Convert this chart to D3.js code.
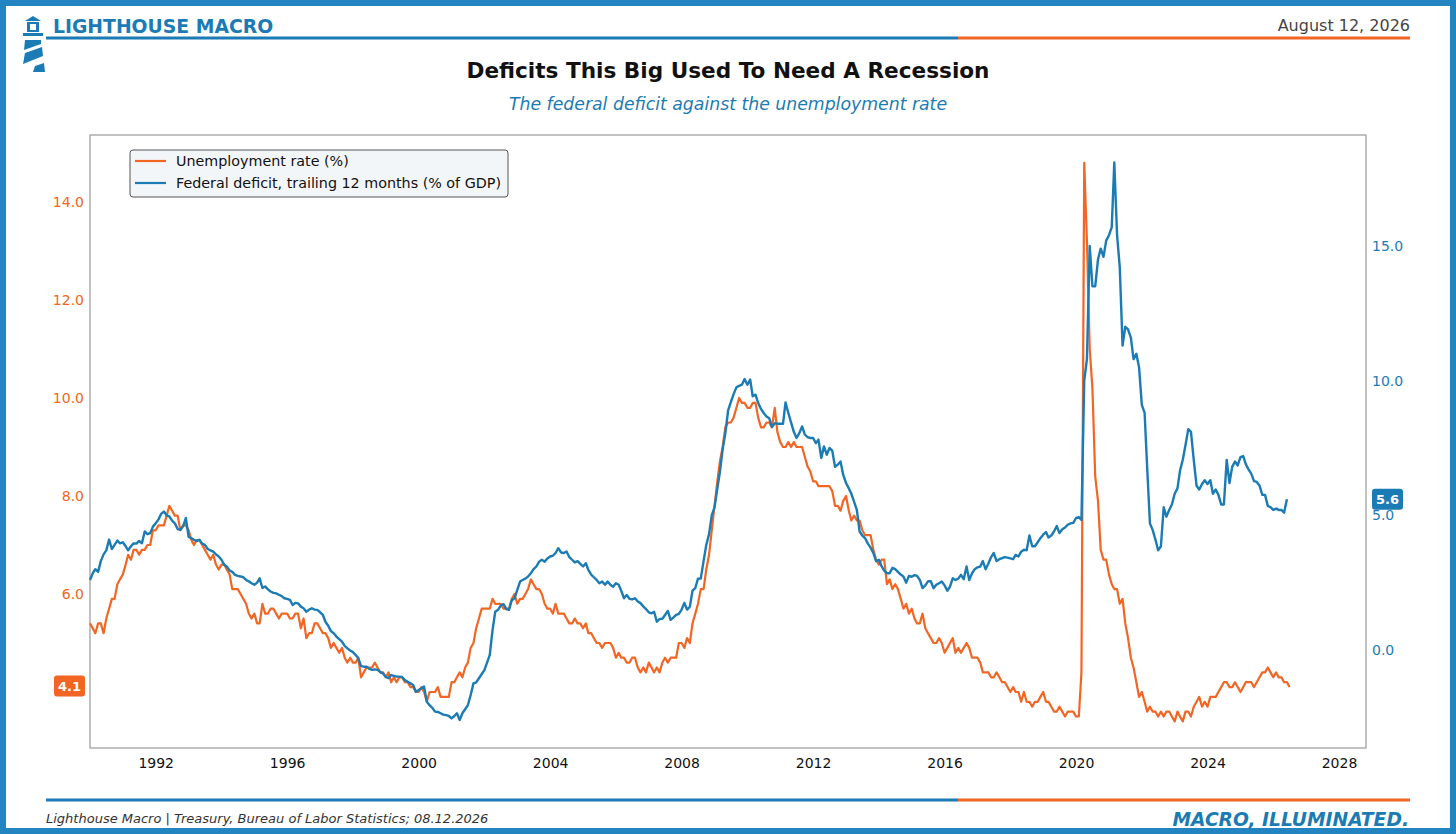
<!DOCTYPE html>
<html lang="en">
<head>
<meta charset="utf-8">
<title>Deficits This Big Used To Need A Recession</title>
<script src="https://d3js.org/d3.v7.min.js"></script>
<style>
  html, body { margin: 0; padding: 0; background: #fff; }
  svg { display: block; font-family: "DejaVu Sans", sans-serif; }
</style>
</head>
<body>
<svg id="chart" width="1456" height="834"></svg>
<script>
// monthly series, starting January 1990
var startYear = 1990;

// unemployment rate (%), Jan 1990 .. Jul 2026
var unemployment = [
  5.4,5.3,5.2,5.4,5.4,5.2,5.5,5.7,5.9,5.9,6.2,6.3,   // 1990
  6.4,6.6,6.8,6.7,6.9,6.9,6.8,6.9,6.9,7.0,7.0,7.3,   // 1991
  7.3,7.4,7.4,7.4,7.6,7.8,7.7,7.6,7.6,7.3,7.4,7.4,   // 1992
  7.3,7.1,7.0,7.1,7.1,7.0,6.9,6.8,6.7,6.8,6.6,6.5,   // 1993
  6.6,6.6,6.5,6.4,6.1,6.1,6.1,6.0,5.9,5.8,5.6,5.5,   // 1994
  5.6,5.4,5.4,5.8,5.6,5.6,5.7,5.7,5.6,5.5,5.6,5.6,   // 1995
  5.6,5.5,5.5,5.6,5.6,5.3,5.5,5.1,5.2,5.2,5.4,5.4,   // 1996
  5.3,5.2,5.2,5.1,4.9,5.0,4.9,4.8,4.9,4.7,4.6,4.7,   // 1997
  4.6,4.6,4.7,4.3,4.4,4.5,4.5,4.5,4.6,4.5,4.4,4.4,   // 1998
  4.3,4.4,4.2,4.3,4.2,4.3,4.3,4.2,4.2,4.1,4.1,4.0,   // 1999
  4.0,4.1,4.0,3.8,4.0,4.0,4.0,4.1,3.9,3.9,3.9,3.9,   // 2000
  4.2,4.2,4.3,4.4,4.3,4.5,4.6,4.9,5.0,5.3,5.5,5.7,   // 2001
  5.7,5.7,5.7,5.9,5.8,5.8,5.8,5.7,5.7,5.7,5.9,6.0,   // 2002
  5.8,5.9,5.9,6.0,6.1,6.3,6.2,6.1,6.1,6.0,5.8,5.7,   // 2003
  5.7,5.6,5.8,5.6,5.6,5.6,5.5,5.4,5.4,5.5,5.4,5.4,   // 2004
  5.3,5.4,5.2,5.2,5.1,5.0,5.0,4.9,5.0,5.0,5.0,4.9,   // 2005
  4.7,4.8,4.7,4.7,4.6,4.6,4.7,4.7,4.5,4.4,4.5,4.4,   // 2006
  4.6,4.5,4.4,4.5,4.4,4.6,4.7,4.6,4.7,4.7,4.7,5.0,   // 2007
  5.0,4.9,5.1,5.0,5.4,5.6,5.8,6.1,6.1,6.5,6.8,7.3,   // 2008
  7.8,8.3,8.7,9.0,9.4,9.5,9.5,9.6,9.8,10.0,9.9,9.9,  // 2009
  9.8,9.8,9.9,9.9,9.6,9.4,9.4,9.5,9.5,9.4,9.8,9.3,   // 2010
  9.1,9.0,9.0,9.1,9.0,9.1,9.0,9.0,9.0,8.8,8.6,8.5,   // 2011
  8.3,8.3,8.2,8.2,8.2,8.2,8.2,8.1,7.8,7.8,7.7,7.9,   // 2012
  8.0,7.7,7.5,7.6,7.5,7.5,7.3,7.2,7.2,7.2,6.9,6.7,   // 2013
  6.6,6.7,6.7,6.2,6.3,6.1,6.2,6.1,5.9,5.7,5.8,5.6,   // 2014
  5.7,5.5,5.4,5.4,5.6,5.3,5.2,5.1,5.0,5.0,5.1,5.0,   // 2015
  4.8,4.9,5.0,5.1,4.8,4.9,4.8,4.9,5.0,4.9,4.7,4.7,   // 2016
  4.7,4.6,4.4,4.4,4.4,4.3,4.3,4.4,4.3,4.2,4.2,4.1,   // 2017
  4.0,4.1,4.0,4.0,3.8,4.0,3.8,3.8,3.7,3.8,3.8,3.9,   // 2018
  4.0,3.8,3.8,3.7,3.6,3.6,3.7,3.6,3.5,3.6,3.6,3.6,   // 2019
  3.5,3.5,4.4,14.8,13.2,11.0,10.2,8.4,7.9,6.9,6.7,6.7, // 2020
  6.4,6.2,6.1,6.1,5.8,5.9,5.4,5.1,4.7,4.5,4.2,3.9,   // 2021
  4.0,3.8,3.6,3.7,3.6,3.6,3.5,3.6,3.5,3.6,3.6,3.5,   // 2022
  3.4,3.6,3.5,3.4,3.6,3.6,3.5,3.7,3.8,3.9,3.7,3.8,   // 2023
  3.7,3.9,3.9,3.9,4.0,4.1,4.2,4.2,4.1,4.1,4.2,4.1,   // 2024
  4.0,4.1,4.2,4.2,4.2,4.1,4.2,4.3,4.4,4.4,4.5,4.4,   // 2025
  4.3,4.4,4.3,4.3,4.2,4.2,4.1                        // 2026
];

// federal deficit, trailing 12 months (% of GDP), Jan 1990 .. Jun 2026
var deficit = [
  2.6,2.85,3.0,2.9,3.3,3.55,3.7,4.1,3.75,3.9,4.06,3.96,        // 1990
  4.0,3.85,3.7,3.85,3.96,3.95,4.05,3.96,4.4,4.3,4.34,4.58,     // 1991
  4.7,4.85,5.05,5.14,5.0,4.96,4.8,4.7,4.49,4.46,4.6,4.9,       // 1992
  4.2,4.15,4.09,4.05,4.09,3.95,3.9,3.75,3.7,3.65,3.55,3.47,    // 1993
  3.35,3.16,3.1,2.95,2.9,2.79,2.75,2.73,2.7,2.6,2.55,2.48,     // 1994
  2.42,2.5,2.66,2.3,2.36,2.25,2.17,2.12,2.1,2.05,2.0,1.92,     // 1995
  1.9,1.86,1.67,1.75,1.73,1.61,1.55,1.42,1.5,1.55,1.5,1.49,    // 1996
  1.4,1.3,1.05,0.9,0.7,0.62,0.5,0.4,0.31,0.15,0.06,-0.02,      // 1997
  -0.08,-0.19,-0.3,-0.6,-0.62,-0.62,-0.7,-0.74,-0.72,-0.74,-0.82,-0.87, // 1998
  -1.0,-1.05,-0.93,-0.96,-0.99,-0.99,-1.0,-1.12,-1.18,-1.24,-1.3,-1.55, // 1999
  -1.49,-1.42,-1.36,-1.92,-2.05,-2.15,-2.29,-2.3,-2.35,-2.4,-2.42,-2.45, // 2000
  -2.54,-2.45,-2.35,-2.6,-2.35,-2.2,-2.05,-1.67,-1.24,-1.2,-1.05,-0.9,  // 2001
  -0.74,-0.45,-0.19,0.74,1.42,1.49,1.65,1.7,1.52,1.49,1.85,1.92,        // 2002
  2.23,2.54,2.6,2.65,2.73,2.85,3.0,3.1,3.28,3.35,3.28,3.4,     // 2003
  3.47,3.5,3.6,3.78,3.62,3.6,3.66,3.45,3.35,3.25,3.3,3.2,      // 2004
  3.1,3.22,2.97,2.8,2.7,2.6,2.48,2.54,2.42,2.54,2.42,2.35,     // 2005
  2.48,2.42,2.2,1.92,2.04,1.9,1.88,1.92,1.8,1.74,1.62,1.52,    // 2006
  1.4,1.36,1.42,1.05,1.15,1.16,1.3,1.45,1.12,1.2,1.3,1.34,     // 2007
  1.5,1.75,1.5,1.6,2.2,2.3,2.65,2.65,3.3,3.9,4.3,5.0,          // 2008
  5.3,6.0,6.6,7.45,8.05,8.9,9.2,9.5,9.75,9.81,9.85,10.06,      // 2009
  9.85,10.04,9.42,9.48,9.17,8.95,8.8,8.67,8.6,8.28,8.42,8.4,   // 2010
  8.4,8.4,9.19,8.8,8.45,8.1,7.87,8.05,8.3,8.0,7.9,7.87,        // 2011
  7.87,7.68,7.81,7.13,7.56,7.25,7.5,7.4,6.8,6.88,7.0,6.5,      // 2012
  6.2,6.0,5.8,5.5,5.2,4.4,4.25,4.15,3.95,3.8,3.6,3.3,          // 2013
  3.35,3.1,2.95,2.85,2.85,3.05,3.0,2.9,2.8,2.73,2.5,2.75,      // 2014
  2.72,2.78,2.75,2.6,2.3,2.4,2.55,2.55,2.29,2.42,2.48,2.54,    // 2015
  2.4,2.2,2.35,2.66,2.6,2.65,2.79,2.63,3.1,2.6,2.85,3.0,       // 2016
  3.07,3.1,3.3,3.0,3.2,3.45,3.6,3.3,3.37,3.41,3.45,3.43,       // 2017
  3.4,3.37,3.53,3.47,3.65,3.72,3.7,4.25,3.85,3.85,4.0,4.15,    // 2018
  4.28,4.38,4.18,4.25,4.4,4.6,4.34,4.48,4.55,4.65,4.7,4.72,    // 2019
  4.9,4.93,4.83,10.0,10.8,15.0,13.5,13.5,14.5,14.9,14.6,15.2,  // 2020
  15.4,15.7,18.1,15.4,14.2,11.3,12.0,11.9,11.6,10.8,11.0,10.5, // 2021
  9.1,8.8,6.8,4.7,4.46,4.1,3.7,3.85,5.3,4.95,5.2,5.4,          // 2022
  5.8,6.0,6.65,7.06,7.6,8.2,8.1,7.06,6.1,5.96,6.16,6.3,        // 2023
  6.16,6.3,5.8,5.96,5.76,5.4,5.4,7.06,6.2,6.8,7.0,6.85,        // 2024
  7.16,7.2,6.9,6.7,6.55,6.27,6.24,6.1,5.76,5.76,5.35,5.3,      // 2025
  5.2,5.25,5.2,5.2,5.1,5.6                                     // 2026
];

var xTickYears = [1992, 1996, 2000, 2004, 2008, 2012, 2016, 2020, 2024, 2028];
var leftTicks = [6, 8, 10, 12, 14];
var rightTicks = [0, 5, 10, 15];

var ORANGE = "#f26522",
    BLUE = "#1b7bb4",
    FRAME = "#2285c2";

var svg = d3.select("#chart");

var plot = { left: 90, right: 1366, top: 135, bottom: 748 };

function monthDate(i) { return new Date(startYear, i, 1); }

var x = d3.scaleTime()
    .domain([new Date(1990, 0, 1), new Date(2028, 9, 27)])
    .range([plot.left, plot.right]);
var yL = d3.scaleLinear().domain([2.857, 15.367]).range([plot.bottom, plot.top]);
var yR = d3.scaleLinear().domain([-3.639, 19.12]).range([plot.bottom, plot.top]);

// outer frame
svg.append("rect")
    .attr("x", 3).attr("y", 3).attr("width", 1450).attr("height", 828)
    .attr("fill", "#fff").attr("stroke", FRAME).attr("stroke-width", 6);

// lighthouse logo
var logo = svg.append("g").attr("fill", BLUE);
logo.append("path").attr("d", "M33,16 L41,21 L25,21 Z");
logo.append("path").attr("d", "M27,22 H39 V32 H27 Z M30,24 V30 H36 V24 Z").attr("fill-rule", "evenodd");
logo.append("rect").attr("x", 23).attr("y", 33).attr("width", 20).attr("height", 3);
logo.append("path").attr("d", "M25,40 L41,40 L41,44 L24,50 Z");
logo.append("path").attr("d", "M25,53 L42,47 L43,56 L23,64 Z");
logo.append("path").attr("d", "M35,66 L44,63 L45,72 L33,72 Z");

// header
svg.append("text").attr("x", 53).attr("y", 33)
    .attr("font-size", 18.8).attr("font-weight", "bold").attr("fill", BLUE)
    .text("LIGHTHOUSE MACRO");
svg.append("text").attr("x", 1410).attr("y", 31).attr("text-anchor", "end")
    .attr("font-size", 16).attr("fill", "#444")
    .text("August 12, 2026");

function splitRule(y) {
  svg.append("line").attr("x1", 46).attr("x2", 958).attr("y1", y).attr("y2", y)
      .attr("stroke", BLUE).attr("stroke-width", 3);
  svg.append("line").attr("x1", 958).attr("x2", 1410).attr("y1", y).attr("y2", y)
      .attr("stroke", ORANGE).attr("stroke-width", 3);
}
splitRule(38);
splitRule(800);

// titles
svg.append("text").attr("x", 728).attr("y", 78).attr("text-anchor", "middle")
    .attr("font-size", 21.6).attr("font-weight", "bold").attr("fill", "#111")
    .text("Deficits This Big Used To Need A Recession");
svg.append("text").attr("x", 728).attr("y", 110).attr("text-anchor", "middle")
    .attr("font-size", 17.3).attr("font-style", "italic").attr("fill", BLUE)
    .text("The federal deficit against the unemployment rate");

// plot frame
svg.append("rect")
    .attr("x", plot.left).attr("y", plot.top)
    .attr("width", plot.right - plot.left).attr("height", plot.bottom - plot.top)
    .attr("fill", "none").attr("stroke", "#999").attr("stroke-width", 1.2);

// axes
var gx = svg.append("g")
    .attr("transform", "translate(0," + plot.bottom + ")")
    .call(d3.axisBottom(x)
        .tickValues(xTickYears.map(function(yr) { return new Date(yr, 0, 1); }))
        .tickFormat(d3.timeFormat("%Y"))
        .tickSize(0).tickPadding(10));
gx.select(".domain").remove();
gx.selectAll("text").attr("font-size", 14).attr("fill", "#111")
    .attr("font-family", "DejaVu Sans");

var gl = svg.append("g")
    .attr("transform", "translate(" + plot.left + ",0)")
    .call(d3.axisLeft(yL).tickValues(leftTicks).tickFormat(d3.format(".1f"))
        .tickSize(0).tickPadding(6));
gl.select(".domain").remove();
gl.selectAll("text").attr("font-size", 14).attr("fill", ORANGE)
    .attr("font-family", "DejaVu Sans");

var gr = svg.append("g")
    .attr("transform", "translate(" + plot.right + ",0)")
    .call(d3.axisRight(yR).tickValues(rightTicks).tickFormat(d3.format(".1f"))
        .tickSize(0).tickPadding(6));
gr.select(".domain").remove();
gr.selectAll("text").attr("font-size", 14).attr("fill", BLUE)
    .attr("font-family", "DejaVu Sans");

// lines
var lineL = d3.line()
    .x(function(d, i) { return x(monthDate(i)); })
    .y(function(d) { return yL(d); });
var lineR = d3.line()
    .x(function(d, i) { return x(monthDate(i)); })
    .y(function(d) { return yR(d); });

svg.append("path").datum(unemployment)
    .attr("d", lineL).attr("fill", "none")
    .attr("stroke", ORANGE).attr("stroke-width", 2.2).attr("stroke-linejoin", "round");
svg.append("path").datum(deficit)
    .attr("d", lineR).attr("fill", "none")
    .attr("stroke", BLUE).attr("stroke-width", 2.4).attr("stroke-linejoin", "round");

// legend
var lg = svg.append("g");
lg.append("rect").attr("x", 130).attr("y", 150).attr("width", 378).attr("height", 47)
    .attr("rx", 3).attr("fill", "#f3f6f9").attr("stroke", "#555").attr("stroke-width", 1);
[["Unemployment rate (%)", ORANGE], ["Federal deficit, trailing 12 months (% of GDP)", BLUE]]
  .forEach(function(item, k) {
    var yy = 161 + k * 22;
    lg.append("line").attr("x1", 135).attr("x2", 166).attr("y1", yy).attr("y2", yy)
        .attr("stroke", item[1]).attr("stroke-width", 2.2);
    lg.append("text").attr("x", 176).attr("y", yy + 5)
        .attr("font-size", 14.3).attr("fill", "#111").text(item[0]);
  });

// last-value badges
function badge(cx, cy, color, label) {
  svg.append("rect").attr("x", cx - 15.5).attr("y", cy - 10.5)
      .attr("width", 31).attr("height", 21).attr("rx", 3).attr("fill", color);
  svg.append("text").attr("x", cx).attr("y", cy + 4.5).attr("text-anchor", "middle")
      .attr("font-size", 13).attr("font-weight", "bold").attr("fill", "#fff").text(label);
}
var lastU = unemployment[unemployment.length - 1],
    lastD = deficit[deficit.length - 1];
badge(69.5, yL(lastU) - 1, ORANGE, lastU.toFixed(1));
badge(1387.5, yR(lastD), BLUE, lastD.toFixed(1));

// footer
svg.append("text").attr("x", 46).attr("y", 823)
    .attr("font-size", 13).attr("font-style", "italic").attr("fill", "#333")
    .text("Lighthouse Macro | Treasury, Bureau of Labor Statistics; 08.12.2026");
svg.append("text").attr("x", 1409).attr("y", 826).attr("text-anchor", "end")
    .attr("font-size", 18.7).attr("font-style", "italic").attr("font-weight", "bold")
    .attr("fill", BLUE)
    .text("MACRO, ILLUMINATED.");
</script>
</body>
</html>
